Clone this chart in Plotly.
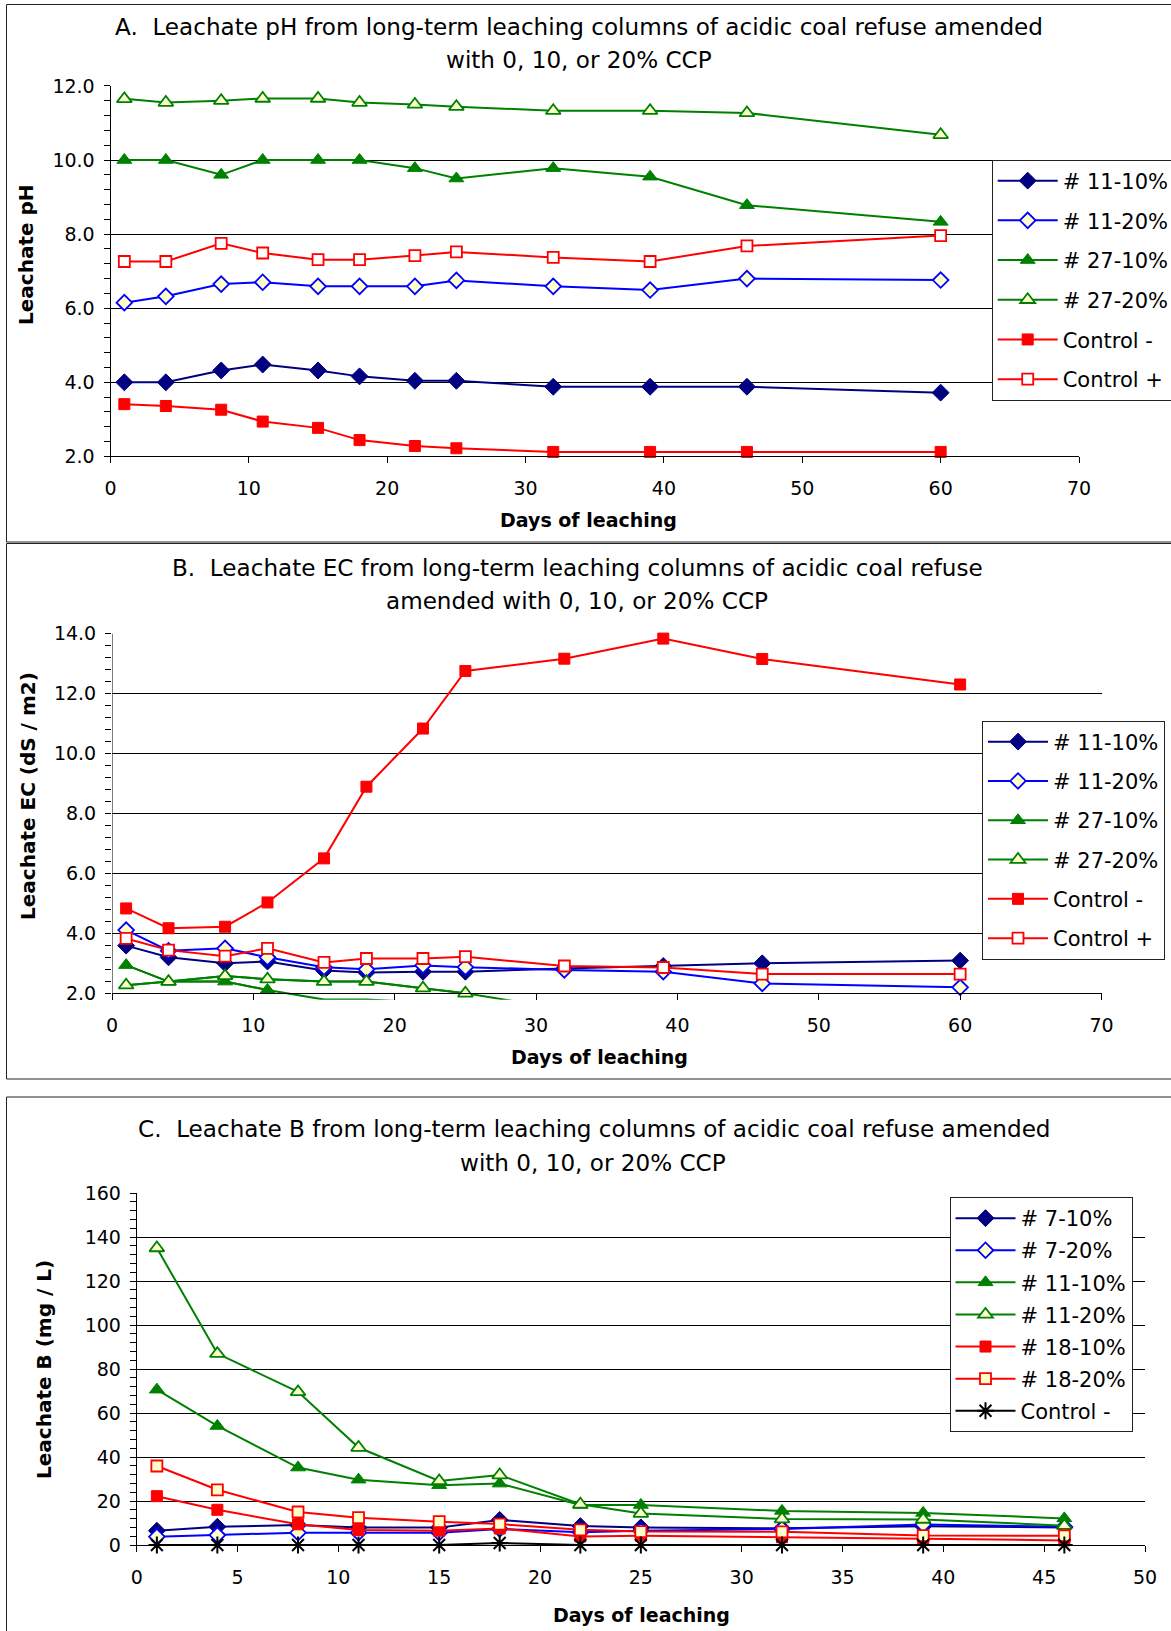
import plotly.graph_objects as go

FONT = "DejaVu Sans"
W, H = 1171, 1631

# ---------------- Panel A: leachate pH ----------------
days_a = [1, 4, 8, 11, 15, 18, 22, 25, 32, 39, 46, 60]
ph_11_10 = [4.00, 4.00, 4.32, 4.48, 4.32, 4.16, 4.04, 4.04, 3.88, 3.88, 3.88, 3.72]
ph_11_20 = [6.15, 6.32, 6.65, 6.70, 6.59, 6.59, 6.59, 6.75, 6.59, 6.49, 6.80, 6.76]
ph_27_10 = [10.0, 10.0, 9.60, 10.0, 10.0, 10.0, 9.78, 9.50, 9.78, 9.55, 8.78, 8.33]
ph_27_20 = [11.65, 11.55, 11.60, 11.66, 11.66, 11.55, 11.50, 11.44, 11.33, 11.33, 11.27, 10.68]
ph_ctrl_minus = [3.41, 3.36, 3.26, 2.94, 2.77, 2.44, 2.28, 2.22, 2.12, 2.12, 2.12, 2.12]
ph_ctrl_plus = [7.26, 7.26, 7.75, 7.49, 7.31, 7.31, 7.42, 7.52, 7.37, 7.26, 7.68, 7.96]
labels_a = ["# 11-10%", "# 11-20%", "# 27-10%", "# 27-20%", "Control -", "Control +"]

# ---------------- Panel B: leachate EC ----------------
days_b = [1, 4, 8, 11, 15, 18, 22, 25, 32, 39, 46, 60]
ec_11_10 = [3.59, 3.20, 3.00, 3.06, 2.76, 2.69, 2.72, 2.72, 2.83, 2.91, 3.00, 3.09]
ec_11_20 = [4.11, 3.42, 3.50, 3.20, 2.87, 2.80, 2.93, 2.87, 2.78, 2.72, 2.33, 2.20]
ec_27_10 = [2.94, 2.39, 2.39, 2.11, 1.79, 1.79, 1.70, None, None, None, None, None]
ec_27_20 = [2.27, 2.39, 2.58, 2.47, 2.39, 2.39, 2.17, 2.00, 1.47, None, None, None]
ec_ctrl_minus = [4.83, 4.17, 4.22, 5.03, 6.50, 8.89, 10.83, 12.75, 13.16, 13.83, 13.15, 12.30]
ec_ctrl_plus = [3.83, 3.44, 3.24, 3.50, 3.03, 3.16, 3.16, 3.22, 2.91, 2.86, 2.64, 2.64]
labels_b = ["# 11-10%", "# 11-20%", "# 27-10%", "# 27-20%", "Control -", "Control +"]

# ---------------- Panel C: leachate B ----------------
days_c = [1, 4, 8, 11, 15, 18, 22, 25, 32, 39, 46]
b_7_10 = [6.5, 8.3, 9.1, 7.9, 7.9, 11.4, 8.6, 8.0, 7.6, 8.5, 8.0]
b_7_20 = [3.8, 4.5, 5.6, 5.6, 5.6, 7.3, 5.8, 6.5, 7.3, 9.3, 8.3]
b_11_10 = [70.6, 54.1, 35.2, 29.7, 27.2, 27.9, 18.2, 18.2, 15.5, 14.6, 12.1]
b_11_20 = [135.0, 87.0, 69.6, 44.3, 29.1, 31.8, 18.5, 14.3, 11.8, 11.6, 8.8]
b_18_10 = [22.2, 16.0, 9.4, 6.8, 6.5, 7.5, 3.9, 4.2, 3.5, 2.9, 2.1]
b_18_20 = [35.9, 25.1, 15.0, 12.4, 10.6, 9.5, 6.9, 6.1, 6.0, 4.3, 4.2]
b_ctrl_minus = [0, 0, 0, 0, 0, 0.9, 0, 0, 0, 0, 0]
labels_c = ["# 7-10%", "# 7-20%", "# 11-10%", "# 11-20%", "# 18-10%", "# 18-20%", "Control -"]

CREAM = "#FFFFCC"
NAVY, BLUE, GREEN, RED = "#000080", "#0000FF", "#008000", "#FF0000"

STY = {
    "dia_f": dict(line=NAVY, m=dict(symbol="diamond", size=13, color=NAVY, line=dict(color=NAVY, width=1))),
    "dia_o": dict(line=BLUE, m=dict(symbol="diamond", size=12, color=CREAM, line=dict(color=BLUE, width=1.8))),
    "tri_f": dict(line=GREEN, m=dict(symbol="triangle-up", size=13, color=GREEN, line=dict(color=GREEN, width=1))),
    "tri_o": dict(line=GREEN, m=dict(symbol="triangle-up", size=13, color=CREAM, line=dict(color=GREEN, width=1.8))),
    "sq_f": dict(line=RED, m=dict(symbol="square", size=11, color=RED, line=dict(color=RED, width=1))),
    "sq_o": dict(line=RED, m=dict(symbol="square", size=11, color="white", line=dict(color=RED, width=1.8))),
    "sq_oc": dict(line=RED, m=dict(symbol="square", size=11, color=CREAM, line=dict(color=RED, width=1.8))),
    "ast": dict(line="black", m=dict(symbol="asterisk-open", size=14, color="black", line=dict(color="black", width=2))),
}

fig = go.Figure()


def add(x, y, name, sty, xa, ya, leg, axis_min=None):
    s = STY[sty]
    if axis_min is not None:
        # full line (clipped by the plot area), markers only for points inside the axis range
        fig.add_trace(go.Scatter(x=x, y=y, mode="lines", line=dict(color=s["line"], width=2),
                                 xaxis=xa, yaxis=ya, showlegend=False, hoverinfo="skip"))
        y = [v if (v is not None and v >= axis_min) else None for v in y]
    fig.add_trace(go.Scatter(
        x=x, y=y, name=name, mode="lines+markers",
        line=dict(color=s["line"], width=2), marker=s["m"],
        xaxis=xa, yaxis=ya, legend=leg, legendgroup=leg + name,
        cliponaxis=axis_min is not None, connectgaps=False,
    ))


series_a = [ph_11_10, ph_11_20, ph_27_10, ph_27_20, ph_ctrl_minus, ph_ctrl_plus]
styles_ab = ["dia_f", "dia_o", "tri_f", "tri_o", "sq_f", "sq_o"]
for ys, nm, st in zip(series_a, labels_a, styles_ab):
    add(days_a, ys, nm, st, "x", "y", "legend")

series_b = [ec_11_10, ec_11_20, ec_27_10, ec_27_20, ec_ctrl_minus, ec_ctrl_plus]
for ys, nm, st in zip(series_b, labels_b, styles_ab):
    add(days_b, ys, nm, st, "x2", "y2", "legend2", axis_min=2.0 if nm.startswith("# 27") else None)

series_c = [b_7_10, b_7_20, b_11_10, b_11_20, b_18_10, b_18_20, b_ctrl_minus]
styles_c = ["dia_f", "dia_o", "tri_f", "tri_o", "sq_f", "sq_oc", "ast"]
for ys, nm, st in zip(series_c, labels_c, styles_c):
    add(days_c, ys, nm, st, "x3", "y3", "legend3")


def px_x(p):
    return p / W


def px_y(p):
    return 1 - p / H


TICKF = dict(family=FONT, size=19, color="black")
common_x = dict(showline=True, linecolor="black", linewidth=1, ticks="outside", ticklen=6,
                tickcolor="black", showgrid=False, zeroline=False, tickfont=TICKF,
                ticklabelstandoff=9)
common_y = dict(linecolor="black", linewidth=1, ticks="outside", ticklen=6, tickcolor="black",
                showgrid=True, gridcolor="black", gridwidth=1, zeroline=False, tickfont=TICKF,
                ticklabelstandoff=5)

# B axis geometry: allow lines to show a few px below the y=2 axis (like the original clip area)
b_y2_px, b_y14_px = 993.3, 633.5
b_unit = (b_y2_px - b_y14_px) / 12.0
b_bottom_px = b_y2_px + 6.5
b_ymin = 2.0 - 6.5 / b_unit

fig.update_layout(
    width=W, height=H, margin=dict(l=0, r=0, t=0, b=0, autoexpand=False),
    paper_bgcolor="white", plot_bgcolor="white",
    font=dict(family=FONT, color="black"),
    xaxis=dict(domain=[px_x(110.5), px_x(1079)], range=[0, 70], dtick=10, anchor="y", **common_x),
    yaxis=dict(domain=[px_y(456.4), px_y(85.9)], range=[2, 12], dtick=2, tick0=2, tickformat=".1f",
               anchor="x", showline=True,
               minor=dict(dtick=0.4, tick0=2, ticks="outside", ticklen=6, tickcolor="black", showgrid=False),
               **common_y),
    xaxis2=dict(domain=[px_x(112), px_x(1101.5)], range=[0, 70], dtick=10, anchor="free",
                position=px_y(b_y2_px), **common_x),
    yaxis2=dict(domain=[px_y(b_bottom_px), px_y(b_y14_px)], range=[b_ymin, 14], dtick=2, tick0=2,
                tickformat=".1f", anchor="x2", showline=False,
                minor=dict(dtick=0.4, tick0=2, ticks="outside", ticklen=6, tickcolor="black", showgrid=False),
                **common_y),
    xaxis3=dict(domain=[px_x(136.7), px_x(1145)], range=[0, 50], dtick=5, anchor="y3", **common_x),
    yaxis3=dict(domain=[px_y(1545), px_y(1193)], range=[0, 160], dtick=20, tick0=0,
                anchor="x3", showline=True,
                minor=dict(dtick=4, tick0=0, ticks="outside", ticklen=6, tickcolor="black", showgrid=False),
                **common_y),
)

LEGF = dict(family=FONT, size=21, color="black")
leg_common = dict(xanchor="left", yanchor="top", bgcolor="white", bordercolor="#222222",
                  borderwidth=1, font=LEGF, itemwidth=60, traceorder="grouped")
fig.update_layout(
    legend=dict(x=px_x(991.7), y=px_y(159.5), tracegroupgap=9.4, **leg_common),
    legend2=dict(x=px_x(982), y=px_y(720.5), tracegroupgap=9, **leg_common),
    legend3=dict(x=px_x(949.5), y=px_y(1197), tracegroupgap=1.8, **leg_common),
)

# y-axis line for panel B (stops at y = 2 like the original)
shapes = [dict(type="line", xref="x2", yref="y2", x0=0, x1=0, y0=2, y1=14,
               line=dict(color="black", width=1))]
# panel frames (the right side and the bottom of panel C are cut off in the original)
frame_line = dict(color="#222222", width=1)
for top, bot in [(4.5, 542), (543.5, 1079)]:
    shapes.append(dict(type="path", xref="paper", yref="paper",
                       path=f"M {W} {px_y(top)} L {px_x(6.5)} {px_y(top)} L {px_x(6.5)} {px_y(bot)} L {W} {px_y(bot)}",
                       line=frame_line, layer="below"))
shapes.append(dict(type="path", xref="paper", yref="paper",
                   path=f"M {W} {px_y(1097)} L {px_x(6.5)} {px_y(1097)} L {px_x(6.5)} 0",
                   line=frame_line, layer="below"))
fig.update_layout(shapes=shapes)

TITLEF = dict(family=FONT, size=23.1, color="black")
AXTF = dict(family=FONT, size=20, color="black", weight="bold")
XTF = dict(family=FONT, size=19, color="black", weight="bold")
ann = []


def text(x, y, s, f, angle=0):
    ann.append(dict(x=px_x(x), y=px_y(y), xref="paper", yref="paper", text=s, showarrow=False,
                    xanchor="center", yanchor="middle", font=f, textangle=angle))


text(579, 27, "A.\u00a0 Leachate pH from long-term leaching columns of acidic coal refuse amended", TITLEF)
text(579, 60, "with 0, 10, or 20% CCP", TITLEF)
text(577, 568, "B.\u00a0 Leachate EC from long-term leaching columns of acidic coal refuse", TITLEF)
text(577, 601, "amended with 0, 10, or 20% CCP", TITLEF)
text(594, 1129, "C.\u00a0 Leachate B from long-term leaching columns of acidic coal refuse amended", TITLEF)
text(593, 1163, "with 0, 10, or 20% CCP", TITLEF)

text(588, 520, "Days of leaching", XTF)
text(600, 1057, "Days of leaching", XTF)
text(641, 1615, "Days of leaching", XTF)
text(26, 255, "Leachate pH", AXTF, -90)
text(28, 796, "Leachate EC (dS / m2)", AXTF, -90)
text(44, 1370, "Leachate B (mg / L)", AXTF, -90)
fig.update_layout(annotations=ann)

fig.write_html("out.html", config={"displayModeBar": False},
               post_script="document.body.style.margin='0px';document.body.style.overflow='hidden';")
